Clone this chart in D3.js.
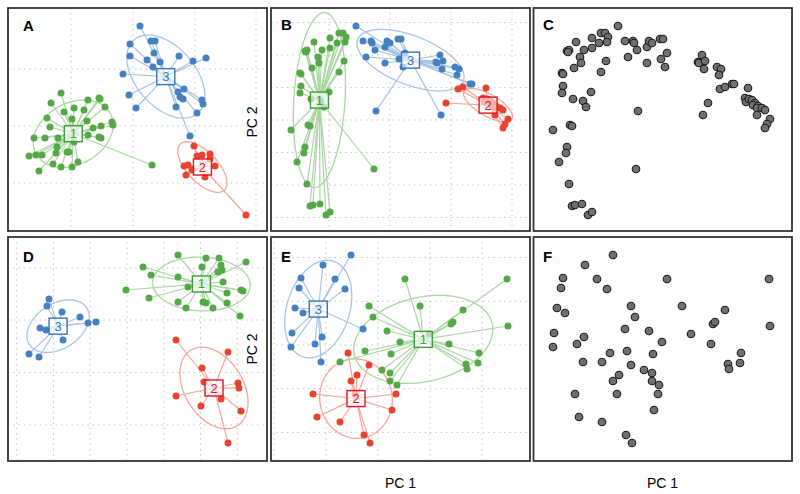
<!DOCTYPE html>
<html>
<head>
<meta charset="utf-8">
<script src="https://cdn.jsdelivr.net/npm/d3@7"></script>
<style>
  html, body { margin: 0; padding: 0; background: #fff; }
  svg { display: block; font-family: "Liberation Sans", Arial, Helvetica, sans-serif; }
</style>
</head>
<body>
<script>
// ---------------- DATA (PC scores, arbitrary units) ----------------
// Panel A
const A_cluster1 = [[-7.2,3.3],[-8.2,2.3],[-4.5,2.6],[-3.4,2.8],[-3.3,2.7],[-2.8,1.9],[-4.9,1.6],[-5.9,1.8],[-6.9,1.4],[-8.6,0.8],[-8.3,-0.1],[-6.1,0.7],[-4.6,0.5],[-3.2,0.0],[-4.0,-0.2],[-2.1,0.4],[-2.0,0.1],[-9.9,-1.2],[-8.8,-1.2],[-7.5,-1.2],[-4.5,-0.9],[-3.4,-1.1],[-3.2,-1.2],[-7.6,-2.1],[-6.6,-2.6],[-6.4,-2.6],[-5.9,-1.6],[-10.4,-3.0],[-9.7,-2.9],[-9.1,-2.9],[-7.7,-2.7],[-5.5,-3.6],[-8.0,-3.8],[-7.2,-4.1],[-6.1,-4.1],[-9.4,-4.5],[1.9,-3.9]];
const A_cluster2 = [[6.1,-2.0],[6.9,-2.9],[7.7,-2.8],[6.4,-3.0],[7.7,-3.3],[5.1,-4.0],[5.5,-3.9],[8.2,-4.0],[5.9,-4.4],[5.3,-4.9],[7.2,-5.1],[11.3,-8.9]];
const A_cluster3 = [[0.7,10.0],[-0.3,8.2],[1.8,8.5],[2.2,8.5],[2.1,7.3],[-0.3,7.0],[1.4,6.6],[2.7,6.4],[4.6,7.0],[6.0,6.5],[7.3,6.8],[2.0,5.9],[-1.0,5.2],[-0.4,3.1],[0.3,1.8],[4.5,3.4],[5.1,3.7],[4.7,2.9],[5.0,2.7],[4.3,1.9],[6.9,2.6],[7.0,2.2],[6.4,1.3],[5.7,-1.0]];
// Panel B (panel C shows the same scores without groups)
const B_cluster1 = [[-5.1,8.7],[-4.7,8.7],[-6.0,8.2],[-4.4,8.3],[-4.5,7.8],[-5.3,7.7],[-7.6,7.8],[-8.5,6.9],[-8.3,7.0],[-8.4,6.8],[-6.8,7.0],[-6.0,7.2],[-7.2,6.3],[-7.1,5.7],[-7.8,5.2],[-4.6,5.9],[-5.1,4.8],[-9.0,4.7],[-8.9,4.6],[-8.9,3.4],[-9.0,2.7],[-7.9,2.1],[-6.9,1.9],[-6.6,1.3],[-6.1,2.8],[-9.9,-1.0],[-8.2,-0.5],[-8.0,-0.6],[-8.5,-2.7],[-8.6,-3.3],[-9.3,-4.2],[-8.3,-6.4],[-8.0,-8.6],[-7.7,-8.5],[-7.0,-8.4],[-6.4,-9.5],[-6.0,-9.2],[-1.6,-4.9]];
const B_cluster2 = [[6.8,3.1],[7.3,3.3],[9.6,3.2],[9.3,2.2],[9.4,1.8],[9.7,2.1],[10.0,2.0],[10.3,1.7],[10.1,1.5],[10.6,1.4],[10.5,1.2],[11.0,1.2],[11.3,1.0],[10.5,0.5],[11.8,0.1],[11.5,-0.4],[11.3,-0.8],[5.6,1.7]];
const B_cluster3 = [[-3.4,9.4],[-2.7,7.9],[-1.9,7.9],[-1.8,7.7],[-1.5,7.0],[-2.4,6.3],[-0.5,7.3],[-0.3,7.9],[0.0,7.7],[0.8,8.1],[1.1,8.1],[-0.5,5.7],[1.5,6.7],[0.9,6.1],[1.3,5.3],[5.0,6.5],[4.6,5.8],[4.7,5.7],[5.3,5.9],[5.2,5.1],[6.5,5.3],[6.9,5.1],[6.7,4.5],[8.0,3.6],[8.2,3.6],[-1.4,0.9],[5.1,0.5]];
// Panel D
const D_cluster1 = [[5.1,6.5],[7.9,6.2],[9.2,6.2],[11.9,5.8],[1.6,5.3],[7.5,5.3],[9.4,5.5],[9.5,5.0],[9.1,4.8],[2.4,4.5],[5.1,4.3],[9.6,3.8],[-0.1,3.0],[6.1,3.3],[11.4,3.0],[11.6,2.9],[2.2,2.2],[10.0,2.7],[5.1,1.8],[7.6,1.8],[7.9,1.7],[10.0,1.7],[5.9,1.2],[8.6,1.2],[11.3,0.4]];
const D_cluster2 = [[4.9,-2.0],[10.1,-3.2],[7.5,-4.8],[7.7,-6.2],[11.1,-6.3],[11.2,-6.8],[4.9,-7.6],[9.4,-7.9],[7.4,-8.6],[11.4,-9.1],[10.1,-12.3]];
const D_cluster3 = [[-7.8,2.1],[-8.0,1.4],[-6.5,0.8],[-4.7,0.3],[-8.7,-0.8],[-8.1,-1.0],[-3.9,-0.3],[-3.1,-0.2],[-6.4,-2.0],[-9.8,-3.4],[-8.8,-3.7]];
// Panel E (panel F shows the same scores without groups)
const E_cluster1 = [[2.7,6.6],[12.9,6.6],[4.2,3.9],[-0.9,3.9],[8.5,3.5],[-0.5,2.8],[7.3,2.1],[7.5,2.3],[13.0,1.9],[0.9,1.4],[5.1,1.1],[2.2,0.3],[7.1,0.1],[-1.3,-0.6],[1.3,-0.9],[10.1,-0.8],[-3.8,-1.7],[10.0,-1.8],[8.8,-1.9],[8.9,-2.4],[0.4,-2.5],[1.2,-2.8],[1.2,-3.6],[1.9,-4.0]];
const E_cluster2 = [[-3.0,-0.8],[-0.9,-2.0],[-2.1,-3.0],[-2.7,-3.6],[-6.5,-4.9],[-2.3,-4.9],[1.8,-4.9],[1.4,-6.5],[-6.1,-7.2],[-3.8,-7.7],[-1.4,-9.0],[-0.8,-9.8]];
const E_cluster3 = [[-2.7,9.0],[-5.5,8.0],[-7.7,6.7],[-4.3,6.6],[-7.9,5.7],[-3.3,5.6],[-8.3,3.7],[-7.5,3.2],[-1.5,1.6],[-8.6,1.2],[-5.6,0.8],[-8.7,-0.2],[-6.3,0.1],[-5.7,-1.7]];

const clusterLabels = ["1", "2", "3"];
const panelLetters = ["A", "B", "C", "D", "E", "F"];
const axisTitles = { x: "PC 1", y: "PC 2" };

// grid positions (data units)
const A_xGrid = [-6.2, 0, 6.2, 12.3], A_yGrid = [5.7, 0, -5.7];
const B_xGrid = [-6.1, 0, 6.1, 12.2], B_yGrid = [9.75, 6.5, 3.25, 0, -3.25, -6.5, -9.75];
const D_xGrid = [-11.03, -7.35, -3.68, 0, 3.68, 7.35, 11.03], D_yGrid = [5.2, 0, -5.25, -10.5];
const E_xGrid = [-10.4, -5.2, 0, 5.2, 10.4], E_yGrid = [8.75, 4.37, 0, -4.37, -8.75];

// ---------------- STYLE ----------------
const COLORS = {
  "1": { pt: "#55a848", light: "#a9d7a1", box: "#3f9c3b" },
  "2": { pt: "#e8432f", light: "#f4a59c", box: "#e3141e" },
  "3": { pt: "#4581c1", light: "#a8c4e3", box: "#3577b8" }
};

const W = 800, H = 494;
const svg = d3.select("body").append("svg").attr("width", W).attr("height", H);

const panels = [
  { letter: "A", rect: [8, 8, 267, 231], xd: [-12.5, 13.4], yd: [-10.5, 11.8], xg: A_xGrid, yg: A_yGrid,
    clusters: [A_cluster1, A_cluster2, A_cluster3], lx: 23, ly: 30.5 },
  { letter: "B", rect: [271, 8, 530, 231], xd: [-11.9, 14.0], yd: [-11.1, 11.2], xg: B_xGrid, yg: B_yGrid,
    clusters: [B_cluster1, B_cluster2, B_cluster3], lx: 281, ly: 29.5 },
  { letter: "C", rect: [533.5, 8, 792, 231], xd: [-11.85, 14.0], yd: [-11.1, 11.2], xg: [], yg: [],
    plain: [].concat(B_cluster1, B_cluster2, B_cluster3), lx: 543, ly: 29.5 },
  { letter: "D", rect: [8, 237, 267, 461], xd: [-11.9, 14.0], yd: [-14.1, 8.3], xg: D_xGrid, yg: D_yGrid,
    clusters: [D_cluster1, D_cluster2, D_cluster3], lx: 23, ly: 261.5 },
  { letter: "E", rect: [271, 237, 530, 461], xd: [-10.7, 15.2], yd: [-11.6, 10.8], xg: E_xGrid, yg: E_yGrid,
    clusters: [E_cluster1, E_cluster2, E_cluster3], lx: 281, ly: 261.5 },
  { letter: "F", rect: [533.5, 237, 792, 461], xd: [-10.65, 15.2], yd: [-11.6, 10.8], xg: [], yg: [],
    plain: [].concat(E_cluster1, E_cluster2, E_cluster3), lx: 543, ly: 261.5 }
];

function ellipseOf(pts, c) {
  const n = pts.length;
  const mx = d3.mean(pts, d => d[0]), my = d3.mean(pts, d => d[1]);
  let sxx = 0, syy = 0, sxy = 0;
  pts.forEach(p => { const dx = p[0] - mx, dy = p[1] - my; sxx += dx*dx; syy += dy*dy; sxy += dx*dy; });
  sxx /= n; syy /= n; sxy /= n;
  const tr = sxx + syy, det = sxx*syy - sxy*sxy;
  const disc = Math.sqrt(Math.max(0, tr*tr/4 - det));
  const l1 = tr/2 + disc, l2 = Math.max(0, tr/2 - disc);
  const th = 0.5 * Math.atan2(2*sxy, sxx - syy);
  const a = c * Math.sqrt(l1), b = c * Math.sqrt(l2);
  const out = [];
  for (let i = 0; i <= 100; i++) {
    const t = i / 100 * 2 * Math.PI;
    const u = a * Math.cos(t), v = b * Math.sin(t);
    out.push([mx + u*Math.cos(th) - v*Math.sin(th), my + u*Math.sin(th) + v*Math.cos(th)]);
  }
  return { mx, my, path: out };
}

panels.forEach((p, pi) => {
  const [x0, y0, x1, y1] = p.rect;
  const x = d3.scaleLinear().domain(p.xd).range([x0, x1]);
  const y = d3.scaleLinear().domain(p.yd).range([y1, y0]);
  const g = svg.append("g");
  const clipId = "clip" + pi;
  svg.append("clipPath").attr("id", clipId).append("rect")
    .attr("x", x0).attr("y", y0).attr("width", x1 - x0).attr("height", y1 - y0);
  const inner = g.append("g").attr("clip-path", `url(#${clipId})`);

  // grid
  inner.selectAll("line.vg").data(p.xg).join("line")
    .attr("x1", d => x(d)).attr("x2", d => x(d)).attr("y1", y0).attr("y2", y1)
    .attr("stroke", "#bdbdbd").attr("stroke-width", 1).attr("stroke-dasharray", "1.3,4");
  inner.selectAll("line.hg").data(p.yg).join("line")
    .attr("y1", d => y(d)).attr("y2", d => y(d)).attr("x1", x0).attr("x2", x1)
    .attr("stroke", "#bdbdbd").attr("stroke-width", 1).attr("stroke-dasharray", "1.3,4");

  if (p.clusters) {
    const infos = p.clusters.map((pts, ci) => ({ pts, lab: clusterLabels[ci], e: ellipseOf(pts, 1.5) }));
    const line = d3.line().x(d => x(d[0])).y(d => y(d[1]));
    // ellipses
    infos.forEach(inf => {
      inner.append("path").attr("d", line(inf.e.path)).attr("fill", "none")
        .attr("stroke", COLORS[inf.lab].light).attr("stroke-width", 1.3);
    });
    // stars
    infos.forEach(inf => {
      inner.append("g").selectAll("line").data(inf.pts).join("line")
        .attr("x1", x(inf.e.mx)).attr("y1", y(inf.e.my))
        .attr("x2", d => x(d[0])).attr("y2", d => y(d[1]))
        .attr("stroke", COLORS[inf.lab].light).attr("stroke-width", 1.2);
    });
    // points
    infos.forEach(inf => {
      inner.append("g").selectAll("circle").data(inf.pts).join("circle")
        .attr("cx", d => x(d[0])).attr("cy", d => y(d[1])).attr("r", 3.5)
        .attr("fill", COLORS[inf.lab].pt);
    });
    // labels
    infos.forEach(inf => {
      const cx = x(inf.e.mx), cy = y(inf.e.my);
      inner.append("rect").attr("x", cx - 9).attr("y", cy - 8).attr("width", 18).attr("height", 16)
        .attr("fill", "#fff").attr("fill-opacity", 0.6)
        .attr("stroke", COLORS[inf.lab].box).attr("stroke-width", 1.4);
      inner.append("text").attr("x", cx).attr("y", cy + 4.5).attr("text-anchor", "middle")
        .attr("font-size", 13).attr("fill", COLORS[inf.lab].box).text(inf.lab);
    });
  } else {
    inner.append("g").selectAll("circle").data(p.plain).join("circle")
      .attr("cx", d => x(d[0])).attr("cy", d => y(d[1])).attr("r", 3.8)
      .attr("fill", "#707070").attr("stroke", "#1a1a1a").attr("stroke-width", 1.1);
  }

  g.append("rect").attr("x", x0).attr("y", y0).attr("width", x1 - x0).attr("height", y1 - y0)
    .attr("fill", "none").attr("stroke", "#333").attr("stroke-width", 1.8);
  g.append("text").attr("x", p.lx).attr("y", p.ly).attr("font-size", 15).attr("font-weight", "bold")
    .attr("fill", "#000").text(p.letter);
});

// axis titles
[122, 349].forEach(cy => {
  svg.append("text").attr("transform", `translate(257,${cy}) rotate(-90)`)
    .attr("text-anchor", "middle").attr("font-size", 14).attr("fill", "#000").text(axisTitles.y);
});
[400.5, 662.5].forEach(cx => {
  svg.append("text").attr("x", cx).attr("y", 488).attr("text-anchor", "middle")
    .attr("font-size", 14).attr("fill", "#000").text(axisTitles.x);
});
</script>
</body>
</html>
